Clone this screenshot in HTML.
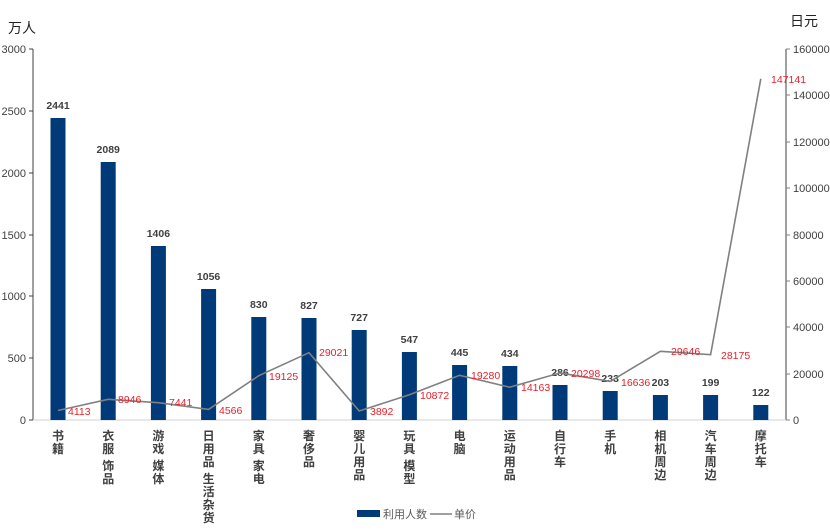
<!DOCTYPE html>
<html><head><meta charset="utf-8"><style>
body{margin:0;background:#fff;width:830px;height:526px;overflow:hidden}
svg text{font-family:"Liberation Sans","Noto Sans CJK SC",sans-serif}
.ax{font-size:11px;fill:#404040}
.v{font-size:10.5px;font-weight:bold;fill:#404040;text-anchor:middle}
.r{font-size:10.5px;fill:#e8202a}
.c{font-size:12px;font-weight:bold;fill:#404040}
</style></head><body>
<svg width="830" height="526" xmlns="http://www.w3.org/2000/svg">
<text x="8" y="33" font-size="14" fill="#222">万人</text>
<text x="790" y="26" font-size="14" fill="#222">日元</text>
<line x1="33" y1="49" x2="33" y2="420" stroke="#404040" stroke-width="1"/>
<line x1="786" y1="49" x2="786" y2="420" stroke="#808080" stroke-width="1.5"/>
<line x1="33" y1="420" x2="786" y2="420" stroke="#d0d0d0"/>
<g stroke="#404040">
<line x1="29" y1="49" x2="33" y2="49"/><line x1="29" y1="111" x2="33" y2="111"/><line x1="29" y1="173" x2="33" y2="173"/><line x1="29" y1="235" x2="33" y2="235"/><line x1="29" y1="296" x2="33" y2="296"/><line x1="29" y1="358" x2="33" y2="358"/><line x1="29" y1="420" x2="33" y2="420"/>
</g>
<g class="ax" text-anchor="end">
<text x="26" y="53">3000</text><text x="26" y="115">2500</text><text x="26" y="177">2000</text><text x="26" y="239">1500</text><text x="26" y="300">1000</text><text x="26" y="362">500</text><text x="26" y="424">0</text>
</g>
<g stroke="#808080">
<line x1="786" y1="49" x2="790" y2="49"/><line x1="786" y1="95" x2="790" y2="95"/><line x1="786" y1="142" x2="790" y2="142"/><line x1="786" y1="188" x2="790" y2="188"/><line x1="786" y1="235" x2="790" y2="235"/><line x1="786" y1="281" x2="790" y2="281"/><line x1="786" y1="327" x2="790" y2="327"/><line x1="786" y1="374" x2="790" y2="374"/><line x1="786" y1="420" x2="790" y2="420"/>
</g>
<g class="ax">
<text x="793" y="53">160000</text><text x="793" y="99">140000</text><text x="793" y="146">120000</text><text x="793" y="192">100000</text><text x="793" y="239">80000</text><text x="793" y="285">60000</text><text x="793" y="331">40000</text><text x="793" y="378">20000</text><text x="793" y="424">0</text>
</g>
<g fill="#003a78">
<rect x="50.5" y="118" width="15" height="302"/>
<rect x="100.7" y="162" width="15" height="258"/>
<rect x="150.9" y="246" width="15" height="174"/>
<rect x="201.1" y="289" width="15" height="131"/>
<rect x="251.3" y="317" width="15" height="103"/>
<rect x="301.5" y="318" width="15" height="102"/>
<rect x="351.7" y="330" width="15" height="90"/>
<rect x="401.9" y="352" width="15" height="68"/>
<rect x="452.1" y="365" width="15" height="55"/>
<rect x="502.3" y="366" width="15" height="54"/>
<rect x="552.5" y="385" width="15" height="35"/>
<rect x="602.7" y="391" width="15" height="29"/>
<rect x="652.9" y="395" width="15" height="25"/>
<rect x="703.1" y="395" width="15" height="25"/>
<rect x="753.3" y="405" width="15" height="15"/>
</g>
<g class="v">
<text x="58" y="109">2441</text><text x="108.2" y="153">2089</text><text x="158.4" y="237">1406</text><text x="208.6" y="280">1056</text><text x="258.8" y="308">830</text><text x="309" y="309">827</text><text x="359.2" y="321">727</text><text x="409.4" y="343">547</text><text x="459.6" y="356">445</text><text x="509.8" y="357">434</text><text x="560" y="376">286</text><text x="610.2" y="382">233</text><text x="660.4" y="386">203</text><text x="710.6" y="386">199</text><text x="760.8" y="396">122</text>
</g>
<polyline fill="none" stroke="#808080" stroke-width="1.6" points="58,410.5 108.2,399.3 158.4,402.7 208.6,409.4 258.8,375.7 309,352.7 359.2,411 409.4,394.8 459.6,375.3 509.8,387.2 560,372.9 610.2,381.4 660.4,351.3 710.6,354.7 760.8,78.8"/>
<g class="r">
<text x="68" y="415">4113</text><text x="118" y="403">8946</text><text x="169" y="406">7441</text><text x="219" y="414">4566</text><text x="269" y="380">19125</text><text x="319" y="356">29021</text><text x="370" y="415">3892</text><text x="420" y="399">10872</text><text x="471" y="379">19280</text><text x="521" y="391">14163</text><text x="571" y="377">20298</text><text x="621" y="386">16636</text><text x="671" y="355">29646</text><text x="721" y="359">28175</text><text x="771" y="83">147141</text>
</g>
<g class="c" text-anchor="middle">
<text x="58" y="440">书</text><text x="58" y="453">籍</text>
<text x="108.2" y="440">衣</text><text x="108.2" y="453">服</text><text x="108.2" y="466">·</text><text x="108.2" y="470">饰</text><text x="108.2" y="483">品</text>
<text x="158.4" y="440">游</text><text x="158.4" y="453">戏</text><text x="158.4" y="466">·</text><text x="158.4" y="470">媒</text><text x="158.4" y="483">体</text>
<text x="208.6" y="440">日</text><text x="208.6" y="453">用</text><text x="208.6" y="466">品</text><text x="208.6" y="479">·</text><text x="208.6" y="483">生</text><text x="208.6" y="496">活</text><text x="208.6" y="509">杂</text><text x="208.6" y="522">货</text>
<text x="258.8" y="440">家</text><text x="258.8" y="453">具</text><text x="258.8" y="466">·</text><text x="258.8" y="470">家</text><text x="258.8" y="483">电</text>
<text x="309" y="440">奢</text><text x="309" y="453">侈</text><text x="309" y="466">品</text>
<text x="359.2" y="440">婴</text><text x="359.2" y="453">儿</text><text x="359.2" y="466">用</text><text x="359.2" y="479">品</text>
<text x="409.4" y="440">玩</text><text x="409.4" y="453">具</text><text x="409.4" y="466">·</text><text x="409.4" y="470">模</text><text x="409.4" y="483">型</text>
<text x="459.6" y="440">电</text><text x="459.6" y="453">脑</text>
<text x="509.8" y="440">运</text><text x="509.8" y="453">动</text><text x="509.8" y="466">用</text><text x="509.8" y="479">品</text>
<text x="560" y="440">自</text><text x="560" y="453">行</text><text x="560" y="466">车</text>
<text x="610.2" y="440">手</text><text x="610.2" y="453">机</text>
<text x="660.4" y="440">相</text><text x="660.4" y="453">机</text><text x="660.4" y="466">周</text><text x="660.4" y="479">边</text>
<text x="710.6" y="440">汽</text><text x="710.6" y="453">车</text><text x="710.6" y="466">周</text><text x="710.6" y="479">边</text>
<text x="760.8" y="440">摩</text><text x="760.8" y="453">托</text><text x="760.8" y="466">车</text>
</g>
<rect x="357" y="510" width="23" height="7" fill="#003a78"/>
<text x="383" y="518" font-size="11" fill="#595959">利用人数</text>
<line x1="430" y1="514" x2="452" y2="514" stroke="#808080" stroke-width="1.6"/>
<text x="454" y="518" font-size="11" fill="#595959">单价</text>
</svg>
</body></html>
